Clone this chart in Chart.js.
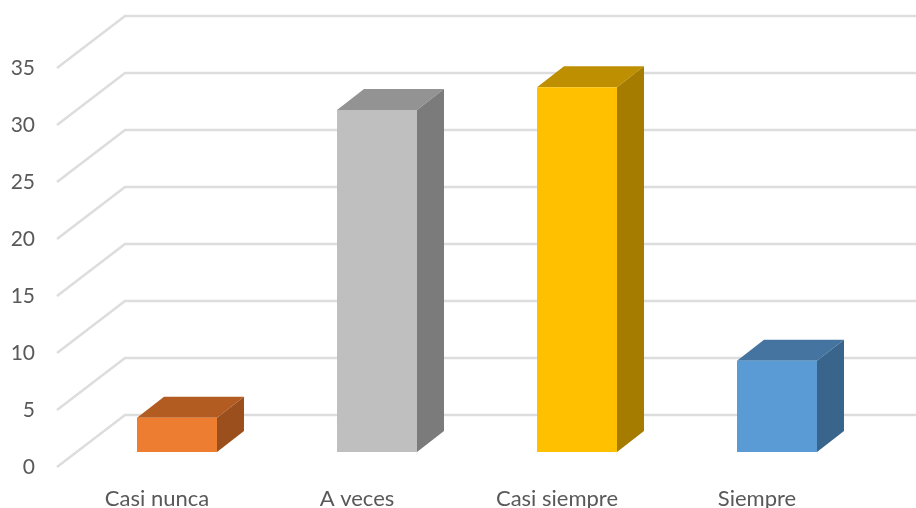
<!DOCTYPE html>
<html>
<head>
<meta charset="utf-8">
<style>
  html, body { margin: 0; padding: 0; background: #fff; }
  #wrap { width: 916px; height: 508px; }
</style>
</head>
<body>
<div id="wrap"><canvas id="myChart"></canvas></div>
<script src="https://cdn.jsdelivr.net/npm/chart.js@4/dist/chart.umd.min.js"></script>
<script>
const categories = ['Casi nunca', 'A veces', 'Casi siempre', 'Siempre'];
const values = [3, 30, 32, 8];
const frontColors = ['#ED7D31', '#BFBFBF', '#FFC000', '#5B9BD5'];
const topColors = ['#B35C22', '#939393', '#BE8F00', '#44749F'];
const sideColors = ['#9A4F1C', '#7B7B7B', '#A57C00', '#39648B'];

const textColor = '#595959';
const gridColor = '#DDDDDD';

// the fake 3D: how far the back wall and the bar depth sit from the front
const wallDx = 68, wallDy = 52;
const barDx = 27, barDy = 21;

const fake3d = {
  id: 'fake3d',
  beforeDatasetsDraw(chart) {
    const c = chart.ctx;
    const y = chart.scales.y;

    c.save();
    c.strokeStyle = gridColor;
    c.lineWidth = 2.5;
    y.ticks.forEach(t => {
      const py = y.getPixelForValue(t.value);
      const x0 = 57;
      c.beginPath();
      c.moveTo(x0, py);
      c.lineTo(x0 + wallDx, py - wallDy);
      c.lineTo(chart.width, py - wallDy);
      c.stroke();
    });

    chart.getDatasetMeta(0).data.forEach((bar, i) => {
      const p = bar.getProps(['x', 'y', 'base', 'width'], true);
      const l = p.x - p.width / 2, r = p.x + p.width / 2;

      c.fillStyle = topColors[i];
      c.beginPath();
      c.moveTo(l, p.y);
      c.lineTo(l + barDx, p.y - barDy);
      c.lineTo(r + barDx, p.y - barDy);
      c.lineTo(r, p.y);
      c.closePath();
      c.fill();

      c.fillStyle = sideColors[i];
      c.beginPath();
      c.moveTo(r, p.y);
      c.lineTo(r + barDx, p.y - barDy);
      c.lineTo(r + barDx, p.base - barDy);
      c.lineTo(r, p.base);
      c.closePath();
      c.fill();
    });
    c.restore();
  }
};

new Chart(document.getElementById('myChart'), {
  type: 'bar',
  data: {
    labels: categories,
    datasets: [{
      data: values,
      yAxisID: 'y2',
      backgroundColor: frontColors,
      barPercentage: 0.4,
      categoryPercentage: 1
    }]
  },
  options: {
    responsive: true,
    maintainAspectRatio: false,
    animation: false,
    layout: { padding: { top: 68, right: 39, left: 0, bottom: 0 } },
    plugins: {
      legend: { display: false },
      tooltip: { enabled: false }
    },
    scales: {
      x: {
        grid: { display: false, drawTicks: false },
        border: { display: false },
        afterFit(scale) { scale.height = 41; },
        ticks: {
          color: textColor,
          font: { family: 'Lato', size: 22 },
          labelOffset: -20,
          padding: 19,
          maxRotation: 0
        }
      },
      y: {
        min: 0,
        max: 35,
        // tickLength pushes the labels left; ticks.padding would also eat the plot height
        grid: { display: false, drawTicks: true, tickLength: 42 },
        border: { display: false },
        afterFit(scale) { scale.width = 77; },
        ticks: {
          stepSize: 5,
          color: textColor,
          font: { family: 'Lato', size: 21 },
          padding: 0
        }
      },
      // bars stand on a floor slightly above the front edge, same units per pixel
      y2: {
        display: false,
        min: -1.316,
        max: 33.684
      }
    }
  },
  plugins: [fake3d]
});
</script>
</body>
</html>
